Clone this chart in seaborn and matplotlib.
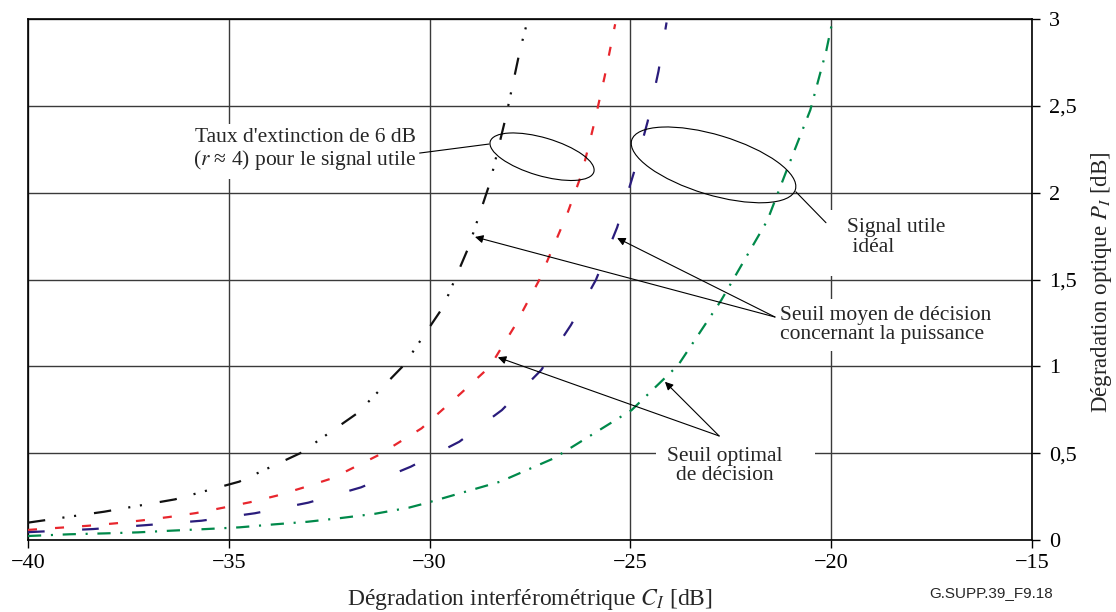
import numpy as np
import pandas as pd
import matplotlib
matplotlib.use("Agg")
import matplotlib.pyplot as plt
from matplotlib.patches import Ellipse, Rectangle
from matplotlib.transforms import ScaledTranslation
import seaborn as sns

# ---------------- data ----------------
black_x = [-40, -38.1, -36.34, -34.74, -33.22, -31.8, -30.64, -29.66, -29.04, -28.5, -28.1, -27.75, -27.55]
black_y = [0.10, 0.163, 0.234, 0.336, 0.50, 0.73, 1.007, 1.343, 1.68, 2.055, 2.437, 2.82, 3.0]

red_x = [-40, -39.19, -38.5, -37.82, -37.16, -36.5, -35.82, -35.14, -34.48, -33.81, -33.17, -32.43,
         -31.27, -30.2, -29.22, -28.5, -27.89, -27.27, -26.57, -26.21, -25.9, -25.64, -25.38]
red_y = [0.058, 0.071, 0.082, 0.096, 0.113, 0.132, 0.155, 0.186, 0.217, 0.255, 0.30, 0.355,
         0.489, 0.643, 0.845, 0.998, 1.228, 1.497, 1.88, 2.11, 2.40, 2.67, 2.97]

navy_x = [-40, -38.38, -37.04, -35.68, -34.35, -33.02, -31.71, -30.47, -29.26, -28.2, -27.22,
          -26.48, -25.86, -25.33, -24.92, -24.57, -24.3, -24.1]
navy_y = [0.045, 0.063, 0.086, 0.111, 0.154, 0.215, 0.303, 0.422, 0.566, 0.748, 0.979,
          1.238, 1.497, 1.80, 2.11, 2.41, 2.70, 2.98]

green_x = [-40, -38.96, -38.1, -37.26, -36.41, -35.57, -34.73, -33.87, -33.04, -32.19, -31.36, -30.52,
           -30.11, -28.24, -26.91, -24.97, -23.81, -22.74, -21.59, -21.14, -20.52, -20.12, -19.99]
green_y = [0.023, 0.033, 0.038, 0.044, 0.054, 0.063, 0.073, 0.09, 0.105, 0.127, 0.151, 0.186,
           0.211, 0.336, 0.47, 0.748, 1.007, 1.38, 1.84, 2.11, 2.476, 2.82, 2.965]

series_names = ["noir", "rouge", "bleu", "vert"]

x_ticks = [-40, -35, -30, -25, -20, -15]
x_ticklabels = ["\u221240", "\u221235", "\u221230", "\u221225", "\u221220", "\u221215"]
y_ticks = [0, 0.5, 1, 1.5, 2, 2.5, 3]
y_ticklabels = ["0", "0,5", "1", "1,5", "2", "2,5", "3"]

# ---------------- style ----------------
sns.set_theme(style="white")
plt.rcParams["font.family"] = ["Liberation Serif", "DejaVu Serif"]
plt.rcParams["mathtext.fontset"] = "stix"
plt.rcParams["lines.scale_dashes"] = False

frames = []
for name, xs, ys in zip(series_names, [black_x, red_x, navy_x, green_x],
                        [black_y, red_y, navy_y, green_y]):
    frames.append(pd.DataFrame({"x": xs, "y": ys, "serie": name}))
df = pd.concat(frames, ignore_index=True)

palette = {"noir": "#111111", "rouge": "#e8262d", "bleu": "#2a1c7c", "vert": "#00894a"}
dashes = {"noir": (12.5, 12.5, 1.5, 7, 1.5, 13),
          "rouge": (6.5, 13),
          "bleu": (12, 27),
          "vert": (9.5, 7, 1.5, 7)}

fig = plt.figure(figsize=(11.16, 6.12), dpi=100)
ax = fig.add_axes([28 / 1116, 1 - 540 / 612, 1004 / 1116, 521 / 612])

sns.lineplot(data=df, x="x", y="y", hue="serie", style="serie", palette=palette,
             dashes=dashes, estimator=None, sort=False, legend=False, lw=1.6, ax=ax, zorder=4)
for ln in ax.get_lines():
    ln.set_dash_capstyle("butt")

ax.set_xlim(-40, -15)
ax.set_ylim(0, 3)
ax.set_xticks(x_ticks)
ax.set_xticklabels(x_ticklabels)
ax.set_yticks(y_ticks)
ax.set_yticklabels(y_ticklabels)
ax.yaxis.tick_right()
ax.yaxis.set_label_position("right")
ax.tick_params(axis="both", direction="out", length=6, width=1, colors="black",
               labelsize=16, pad=4)
ax.tick_params(axis="x", bottom=True, top=False)
ax.tick_params(axis="y", right=True, left=False, pad=6)

ax.grid(True, color="#3a3a3a", lw=1.0)
for sp in ax.spines.values():
    sp.set_color("black")
    sp.set_linewidth(1.2)
    sp.set_visible(True)

ax.set_xlabel(r"Dégradation interférométrique $C_I$ [dB]", fontsize=17)
ax.xaxis.set_label_coords(0.5, -0.115)
ax.xaxis.label.set_va("center")
ax.set_ylabel(r"Dégradation optique $P_I$ [dB]", fontsize=16.5)
ax.yaxis.set_label_coords(1.069, 0.495)
ax.yaxis.label.set_va("center")

# ---------------- annotations ----------------
box = dict(boxstyle="square,pad=0.3", fc="white", ec="none")
fs = 15.5

ax.text(-30.34, 2.245, "Taux d'extinction de 6 dB\n($r$ \u2248 4) pour le signal utile",
        ha="right", va="center", fontsize=fs, multialignment="right", bbox=box, zorder=6,
        linespacing=1.05)
ax.plot([-30.25, -28.52], [2.228, 2.28], color="black", lw=0.8, zorder=6)

# white backing boxes that interrupt the grid like in the reference
ax.add_patch(Rectangle((-20.2, 1.52), 2.9, 0.38, fc="white", ec="none", zorder=5))
ax.add_patch(Rectangle((-24.36, 0.30), 3.96, 0.28, fc="white", ec="none", zorder=5))

ax.text(-19.6, 1.74, "Signal utile\n idéal", ha="left", va="center", fontsize=fs,
        multialignment="left", zorder=6, linespacing=1.05)
ax.plot([-20.13, -20.88], [1.827, 2.005], color="black", lw=0.8, zorder=6)

ax.text(-21.28, 1.238, "Seuil moyen de décision\nconcernant la puissance", ha="left",
        va="center", fontsize=fs, multialignment="left", bbox=box, zorder=6, linespacing=1.05)

ax.text(-22.64, 0.426, "Seuil optimal\nde décision", ha="center", va="center", fontsize=fs,
        multialignment="center", zorder=6, linespacing=1.05)

arrow = dict(arrowstyle="-|>", lw=0.8, color="black", mutation_scale=12,
             shrinkA=0, shrinkB=0)
for (x0, y0), (x1, y1) in [((-21.4, 1.284), (-28.87, 1.745)),
                           ((-21.4, 1.284), (-25.33, 1.739)),
                           ((-22.79, 0.599), (-28.3, 1.052)),
                           ((-22.79, 0.599), (-24.14, 0.911))]:
    ax.annotate("", xy=(x1, y1), xytext=(x0, y0), arrowprops=arrow, zorder=7)

# ellipses (sizes in inches at 100 dpi)
for cx, cy, w, h, ang in [(-27.2, 2.207, 108, 38, -16.4),
                          (-22.93, 2.16, 171, 60, -16.8)]:
    e = Ellipse((0, 0), width=w / 100, height=h / 100, angle=ang, fill=False,
                ec="black", lw=0.8, zorder=7,
                transform=fig.dpi_scale_trans + ScaledTranslation(cx, cy, ax.transData))
    ax.add_patch(e)

fig.text(1053 / 1116, 1 - 593 / 612, "G.SUPP.39_F9.18", ha="right", va="center",
         fontsize=11, family="Liberation Sans")

fig.savefig("out.png", dpi=100)
